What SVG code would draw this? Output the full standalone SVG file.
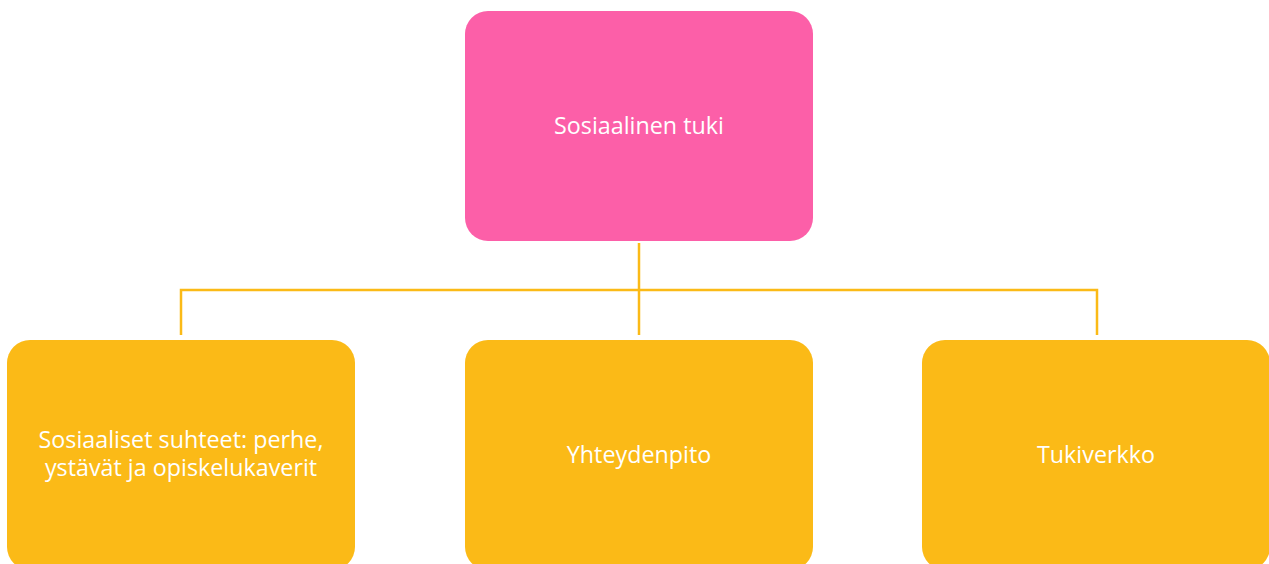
<svg xmlns="http://www.w3.org/2000/svg" width="1269" height="564" viewBox="0 0 1269 564">
<style>
.bg{fill:#ffffff}
.top{fill:#FC5FA8}
.leaf{fill:#FBBA17}
.lbl{font-family:"Open Sans","Noto Sans","Liberation Sans",sans-serif;font-size:23.3px;fill:#ffffff;text-anchor:middle}
.conn{stroke:#FBBA17;stroke-width:2.5;fill:none}
</style>
<rect class="bg" x="0" y="0" width="1269" height="564"/>
<g id="connectors">
<path class="conn" d="M639,243 V335"/>
<path class="conn" d="M181,335 V290 H1097 V335"/>
</g>
<g id="node-root">
<rect class="top" x="465" y="11" width="348" height="230" rx="23"/>
<text class="lbl" x="639" y="134">Sosiaalinen tuki</text>
</g>
<g id="node-suhteet">
<rect class="leaf" x="7" y="340" width="348" height="230" rx="23"/>
<text class="lbl"><tspan x="181" y="448">Sosiaaliset suhteet: perhe,</tspan><tspan x="181" y="475.5">ystävät ja opiskelukaverit</tspan></text>
</g>
<g id="node-yhteydenpito">
<rect class="leaf" x="465" y="340" width="348" height="230" rx="23"/>
<text class="lbl" x="639" y="463">Yhteydenpito</text>
</g>
<g id="node-tukiverkko">
<rect class="leaf" x="922" y="340" width="348" height="230" rx="23"/>
<text class="lbl" x="1096" y="463">Tukiverkko</text>
</g>
</svg>
